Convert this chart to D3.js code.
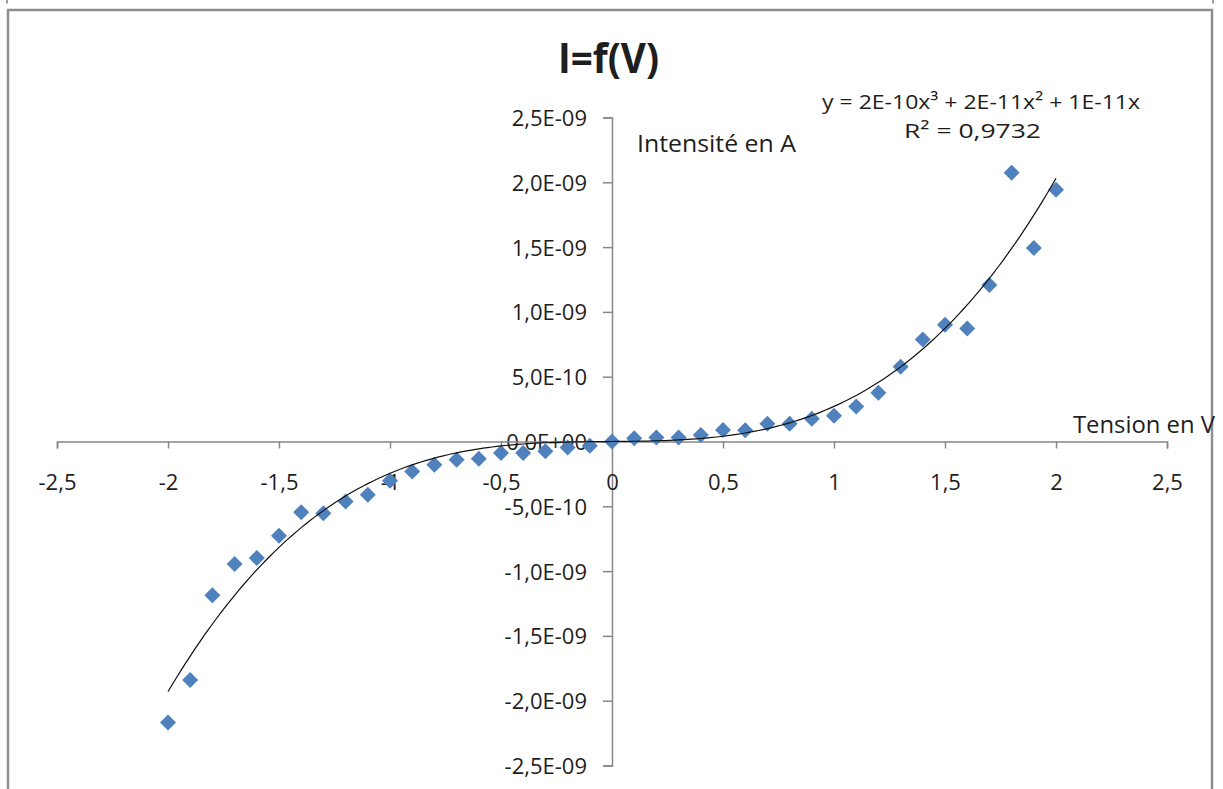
<!DOCTYPE html>
<html>
<head>
<meta charset="utf-8">
<script src="https://cdn.jsdelivr.net/npm/d3@7"></script>
<style>
  html, body { margin: 0; padding: 0; background: #ffffff; }
  svg { display: block; }
  text { font-family: "Open Sans", "Liberation Sans", sans-serif; fill: #1e1e1e; }
</style>
</head>
<body>
<svg id="chart" width="1223" height="789"></svg>
<script>
// ---- Data ----
const tension = [-2, -1.9, -1.8, -1.7, -1.6, -1.5, -1.4, -1.3, -1.2, -1.1, -1.0,
                 -0.9, -0.8, -0.7, -0.6, -0.5, -0.4, -0.3, -0.2, -0.1, 0,
                 0.1, 0.2, 0.3, 0.4, 0.5, 0.6, 0.7, 0.8, 0.9, 1.0,
                 1.1, 1.2, 1.3, 1.4, 1.5, 1.6, 1.7, 1.8, 1.9, 2.0];
const intensite = [-2.168e-9, -1.840e-9, -1.186e-9, -0.945e-9, -0.899e-9, -0.727e-9, -0.545e-9, -0.553e-9, -0.463e-9, -0.410e-9, -0.303e-9,
                   -0.231e-9, -0.179e-9, -0.140e-9, -0.134e-9, -0.089e-9, -0.088e-9, -0.075e-9, -0.046e-9, -0.032e-9, 0,
                   0.025e-9, 0.030e-9, 0.030e-9, 0.050e-9, 0.088e-9, 0.087e-9, 0.137e-9, 0.137e-9, 0.176e-9, 0.199e-9,
                   0.270e-9, 0.376e-9, 0.577e-9, 0.788e-9, 0.900e-9, 0.871e-9, 1.207e-9, 2.074e-9, 1.494e-9, 1.942e-9];

const xTickValues = [-2.5, -2, -1.5, -1, -0.5, 0, 0.5, 1, 1.5, 2, 2.5];
const xTickLabels = ["-2,5", "-2", "-1,5", "-1", "-0,5", "0", "0,5", "1", "1,5", "2", "2,5"];
const yTickValues = [2.5e-9, 2.0e-9, 1.5e-9, 1.0e-9, 5.0e-10, 0, -5.0e-10, -1.0e-9, -1.5e-9, -2.0e-9, -2.5e-9];
const yTickLabels = ["2,5E-09", "2,0E-09", "1,5E-09", "1,0E-09", "5,0E-10", "0,0E+00",
                     "-5,0E-10", "-1,0E-09", "-1,5E-09", "-2,0E-09", "-2,5E-09"];

const chartTitle = "I=f(V)";
const yAxisTitle = "Intensité en A";
const xAxisTitle = "Tension en V";
const equationText = "y = 2E-10x³ + 2E-11x² + 1E-11x";
const r2Text = "R² = 0,9732";

// ---- Scales ----
const svg = d3.select("#chart");
const x = d3.scaleLinear().domain([-2.5, 2.5]).range([57, 1167]);
const y = d3.scaleLinear().domain([-2.5e-9, 2.5e-9]).range([765.5, 117.5]);
const axisColor = "#878787";

// ---- Outer frame ----
svg.append("path")
  .attr("d", "M8,795 L8,10 L1212,10 L1212,795")
  .attr("fill", "none").attr("stroke", "#8e8e8e").attr("stroke-width", 2.5);
svg.append("line").attr("x1", 7).attr("x2", 7).attr("y1", 0).attr("y2", 3.5)
  .attr("stroke", "#9a9a9a").attr("stroke-width", 2);
svg.append("line").attr("x1", 1213).attr("x2", 1213).attr("y1", 0).attr("y2", 3.5)
  .attr("stroke", "#9a9a9a").attr("stroke-width", 2);

// ---- Y axis (at x = 0) ----
const yAxis = d3.axisLeft(y)
  .tickValues(yTickValues)
  .tickSize(9)
  .tickFormat((d, i) => yTickLabels[i]);
const gy = svg.append("g").attr("transform", `translate(${x(0)},0)`).call(yAxis);
gy.select(".domain").attr("stroke", axisColor).attr("stroke-width", 1.5);
gy.selectAll(".tick line").attr("stroke", axisColor).attr("stroke-width", 1.5);
gy.selectAll(".tick text")
  .attr("x", -25).attr("dy", null).attr("y", 8)
  .attr("font-size", 22).attr("font-family", "Open Sans").attr("fill", "#1e1e1e");

// ---- X axis (at y = 0) ----
const xAxis = d3.axisBottom(x)
  .tickValues(xTickValues)
  .tickSize(7)
  .tickFormat((d, i) => xTickLabels[i]);
const gx = svg.append("g").attr("transform", `translate(0,${y(0)})`).call(xAxis);
gx.select(".domain").attr("stroke", axisColor).attr("stroke-width", 1.5);
gx.selectAll(".tick line").attr("stroke", axisColor).attr("stroke-width", 1.5);
gx.selectAll(".tick text")
  .attr("y", 48).attr("dy", null)
  .attr("font-size", 22).attr("font-family", "Open Sans").attr("fill", "#1e1e1e");
svg.selectAll(".domain").attr("d", function () { return d3.select(this).attr("d"); });

// ---- Markers (diamonds) ----
const diamond = d3.symbol().type(d3.symbolSquare).size(128);
svg.append("g").selectAll("path")
  .data(tension.map((t, i) => [t, intensite[i]]))
  .join("path")
  .attr("d", diamond)
  .attr("transform", d => `translate(${x(d[0])},${y(d[1])}) rotate(45)`)
  .attr("fill", "#4F81BD");

// ---- Polynomial trendline (order 3, intercept = 0), least squares from the data ----
function fitCubicNoIntercept(xs, ys) {
  const A = [[0, 0, 0], [0, 0, 0], [0, 0, 0]], b = [0, 0, 0];
  xs.forEach((xv, k) => {
    const yv = ys[k] * 1e9;
    const basis = [xv, xv * xv, xv * xv * xv];
    for (let i = 0; i < 3; i++) {
      b[i] += basis[i] * yv;
      for (let j = 0; j < 3; j++) A[i][j] += basis[i] * basis[j];
    }
  });
  // Gaussian elimination
  for (let i = 0; i < 3; i++) {
    let p = i;
    for (let r = i + 1; r < 3; r++) if (Math.abs(A[r][i]) > Math.abs(A[p][i])) p = r;
    [A[i], A[p]] = [A[p], A[i]]; [b[i], b[p]] = [b[p], b[i]];
    for (let r = i + 1; r < 3; r++) {
      const f = A[r][i] / A[i][i];
      for (let c = i; c < 3; c++) A[r][c] -= f * A[i][c];
      b[r] -= f * b[i];
    }
  }
  const c = [0, 0, 0];
  for (let i = 2; i >= 0; i--) {
    let s = b[i];
    for (let j = i + 1; j < 3; j++) s -= A[i][j] * c[j];
    c[i] = s / A[i][i];
  }
  return c.map(v => v * 1e-9); // [c1, c2, c3]
}
const coef = fitCubicNoIntercept(tension, intensite);
const trendX = d3.range(0, 201).map(i => d3.min(tension) + i * (d3.max(tension) - d3.min(tension)) / 200);
const trend = trendX.map(t => [t, coef[0] * t + coef[1] * t * t + coef[2] * t * t * t]);
svg.append("path")
  .datum(trend)
  .attr("d", d3.line().x(d => x(d[0])).y(d => y(d[1])).curve(d3.curveLinear))
  .attr("fill", "none").attr("stroke", "#111").attr("stroke-width", 1.2);

// ---- Texts ----
svg.append("text").text(chartTitle)
  .attr("x", 558).attr("y", 73)
  .attr("font-size", 42).attr("font-weight", "bold")
  .attr("textLength", 101).attr("lengthAdjust", "spacingAndGlyphs");

svg.append("text").text(yAxisTitle)
  .attr("x", 637).attr("y", 152)
  .attr("font-size", 24)
  .attr("textLength", 159).attr("lengthAdjust", "spacingAndGlyphs");

svg.append("text").text(xAxisTitle)
  .attr("x", 1073).attr("y", 433)
  .attr("font-size", 24)
  .attr("textLength", 142).attr("lengthAdjust", "spacingAndGlyphs");

svg.append("text").text(equationText)
  .attr("x", 822).attr("y", 109)
  .attr("font-size", 20.5)
  .attr("textLength", 318).attr("lengthAdjust", "spacingAndGlyphs");

svg.append("text").text(r2Text)
  .attr("x", 904).attr("y", 138)
  .attr("font-size", 20.5)
  .attr("textLength", 137).attr("lengthAdjust", "spacingAndGlyphs");
</script>
</body>
</html>
